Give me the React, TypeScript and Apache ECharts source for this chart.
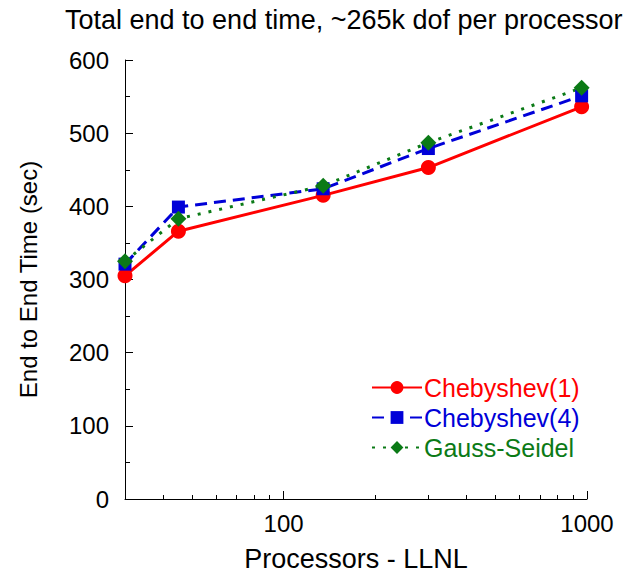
import React, { useEffect, useRef } from "react";
import * as echarts from "echarts";

const processors = [30, 45, 135, 300, 960];
const chebyshev1 = [305, 366, 415, 453, 536];
const chebyshev4 = [321, 399, 424, 479, 551];
const gaussSeidel = [325, 383, 428, 487, 562];
const majorXTicks = [100, 1000];
const minorXTicks = [40, 50, 60, 70, 80, 90, 200, 300, 400, 500, 600, 700, 800, 900];
const seriesNames = ["Chebyshev(1)", "Chebyshev(4)", "Gauss-Seidel"];

const FONT = "Liberation Sans, Arial, Helvetica, sans-serif";
const RED = "#ff0000";
const BLUE = "#0000d8";
const GREEN = "#0b7a16";

export default function App() {
  const ref = useRef<HTMLDivElement>(null);
  useEffect(() => {
    if (!ref.current) return;
    const chart = echarts.init(ref.current, undefined, { renderer: "svg" });
    const pts = (vals: number[]) => processors.map((p, i) => [p, vals[i]]);
    chart.setOption({
      animation: false,
      backgroundColor: "#ffffff",
      textStyle: { fontFamily: FONT },
      title: {
        text: "Total end to end time, ~265k dof per processor",
        left: 60,
        top: 1,
        textStyle: { fontFamily: FONT, fontSize: 27, fontWeight: "normal", color: "#000" },
      },
      grid: { left: 125, right: 37, top: 60, bottom: 79, containLabel: false },
      legend: {
        orient: "vertical",
        left: 366,
        top: 370,
        itemWidth: 50,
        itemHeight: 16,
        itemGap: 5,
        data: [
          { name: seriesNames[0], textStyle: { color: RED } },
          { name: seriesNames[1], textStyle: { color: BLUE } },
          { name: seriesNames[2], textStyle: { color: GREEN } },
        ],
        textStyle: { fontFamily: FONT, fontSize: 25, padding: [0, 0, 0, -3] },
      },
      xAxis: [
        {
          type: "log",
          min: 30,
          max: 1000,
          logBase: 10,
          name: "Processors - LLNL",
          nameLocation: "middle",
          nameGap: 46,
          nameTextStyle: { fontFamily: FONT, fontSize: 27, color: "#000" },
          axisLine: { show: true, onZero: false, lineStyle: { color: "#000", width: 1 } },
          axisTick: { show: true, inside: true, length: 8, customValues: majorXTicks, lineStyle: { color: "#000" } },
          axisLabel: {
            show: true,
            customValues: majorXTicks,
            margin: 12,
            fontFamily: FONT,
            fontSize: 24,
            color: "#000",
            formatter: (v: number) => String(Math.round(v)),
          },
          splitLine: { show: false },
        },
        {
          type: "log",
          min: 30,
          max: 1000,
          logBase: 10,
          position: "bottom",
          axisLine: { show: false },
          axisTick: { show: true, inside: true, length: 4, customValues: minorXTicks, lineStyle: { color: "#000" } },
          axisLabel: { show: false },
          splitLine: { show: false },
        },
      ],
      yAxis: {
        type: "value",
        min: 0,
        max: 600,
        interval: 100,
        name: "End to End Time (sec)",
        nameLocation: "middle",
        nameGap: 85,
        nameRotate: 90,
        nameTextStyle: { fontFamily: FONT, fontSize: 24, color: "#000" },
        axisLine: { show: true, lineStyle: { color: "#000", width: 1 } },
        axisTick: { show: true, inside: true, length: 8, lineStyle: { color: "#000" } },
        minorTick: { show: true, splitNumber: 2, length: 5, lineStyle: { color: "#000" } },
        axisLabel: { margin: 16, fontFamily: FONT, fontSize: 24, color: "#000" },
        splitLine: { show: false },
      },
      series: [
        {
          name: seriesNames[0],
          type: "line",
          data: pts(chebyshev1),
          symbol: "circle",
          symbolSize: 15,
          color: RED,
          lineStyle: { color: RED, width: 3, type: "solid" },
          itemStyle: { color: RED },
        },
        {
          name: seriesNames[1],
          type: "line",
          data: pts(chebyshev4),
          symbol: "rect",
          symbolSize: 13,
          color: BLUE,
          lineStyle: { color: BLUE, width: 3, type: [12, 7] },
          itemStyle: { color: BLUE },
        },
        {
          name: seriesNames[2],
          type: "line",
          data: pts(gaussSeidel),
          symbol: "diamond",
          symbolSize: 16,
          color: GREEN,
          lineStyle: { color: GREEN, width: 3, type: [3, 8] },
          itemStyle: { color: GREEN },
        },
      ],
    });
    return () => chart.dispose();
  }, []);
  return <div ref={ref} style={{ position: "fixed", left: 0, top: 0, width: 624, height: 578 }} />;
}
